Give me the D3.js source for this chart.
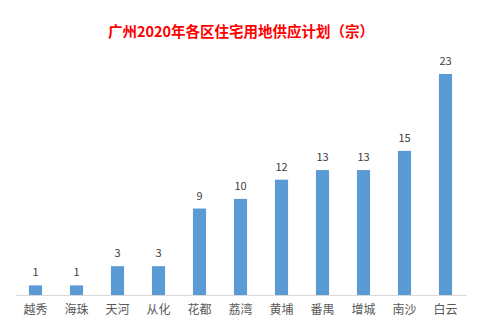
<!DOCTYPE html>
<html><head><meta charset="utf-8">
<script src="https://cdn.jsdelivr.net/npm/d3@7"></script>
<style>html,body{margin:0;padding:0;background:#fff;}svg{display:block;}</style>
</head><body>
<svg id="chart" width="480" height="330"></svg>
<script>
const categories = ["越秀","海珠","天河","从化","花都","荔湾","黄埔","番禺","增城","南沙","白云"];
const values = [1,1,3,3,9,10,12,13,13,15,23];
const title = "广州2020年各区住宅用地供应计划（宗）";

const svg = d3.select("#chart");
const font = "'Noto Sans CJK SC', 'Microsoft YaHei', sans-serif";
const x = d3.scaleBand().domain(categories).range([15, 466]).paddingInner(0.68).paddingOuter(0.34);
const y = d3.scaleLinear().domain([0, 23]).range([295, 74]);

svg.append("text").attr("x", 241).attr("y", 37).attr("text-anchor", "middle")
  .attr("font-family", font).attr("font-weight", "bold").attr("font-size", 14.5)
  .attr("fill", "#ff0000").text(title);

svg.selectAll("rect.bar").data(values).enter().append("rect").attr("class","bar")
  .attr("x", (d,i) => x(categories[i])).attr("width", x.bandwidth())
  .attr("y", d => y(d)).attr("height", d => y(0) - y(d)).attr("fill", "#5b9bd5");

svg.selectAll("text.val").data(values).enter().append("text").attr("class","val")
  .attr("x", (d,i) => x(categories[i]) + x.bandwidth()/2).attr("y", d => y(d) - 9)
  .attr("text-anchor","middle").attr("font-family", font).attr("font-size", 11)
  .attr("fill", "#404040").text(d => d);

const axis = d3.axisBottom(x).tickSize(0).tickPadding(10);
const g = svg.append("g").attr("transform", "translate(0,295)").call(axis);
g.select(".domain").attr("stroke", "#d9d9d9").attr("stroke-width", 1);
g.selectAll("text").attr("font-family", font).attr("font-size", 12).attr("fill", "#595959");
</script>
</body></html>
